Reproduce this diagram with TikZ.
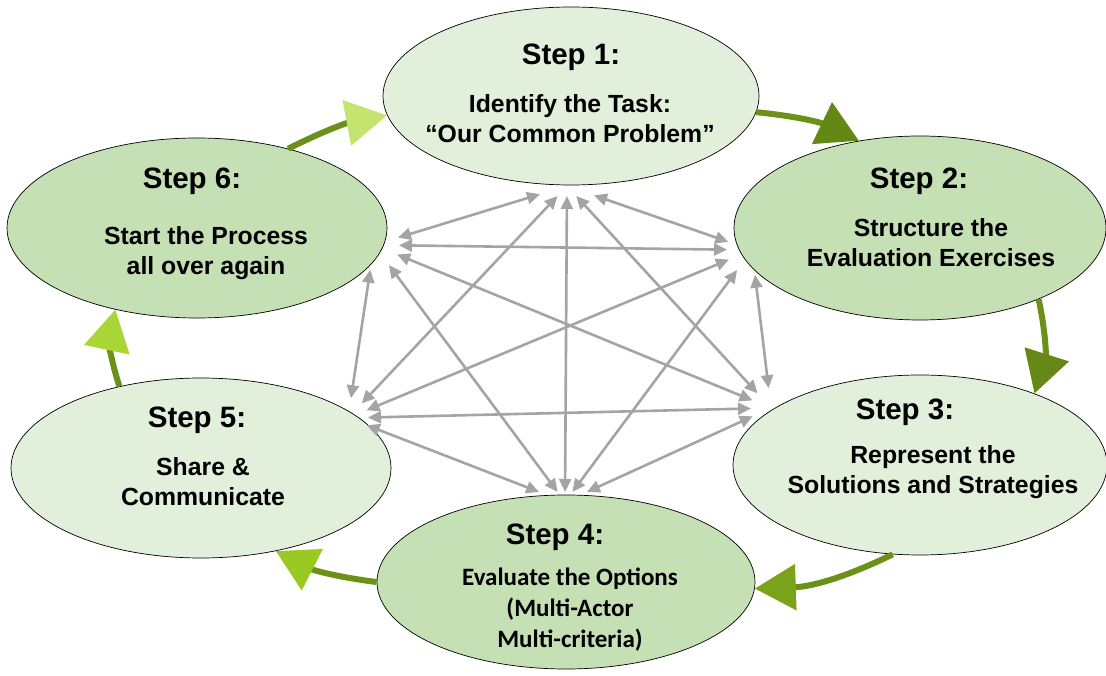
\documentclass[tikz,border=0pt]{standalone}
\usepackage{fontspec}
\setmainfont{Liberation Sans}
\newfontfamily\calfont{Carlito}
\usepackage{tikz}
\usetikzlibrary{shapes.geometric,arrows.meta}
\definecolor{lightstep}{RGB}{226,239,218}
\definecolor{darkstep}{RGB}{197,224,180}
\definecolor{shaft}{RGB}{108,145,25}
\definecolor{spokegray}{RGB}{164,164,164}
\definecolor{headA}{RGB}{195,228,110}
\definecolor{headB}{RGB}{99,137,20}
\definecolor{headC}{RGB}{102,136,22}
\definecolor{headD}{RGB}{122,163,26}
\definecolor{headE}{RGB}{154,201,34}
\definecolor{headF}{RGB}{168,214,55}

\begin{document}
\begin{tikzpicture}[x=1pt,y=1pt,
  stepshape/.style={ellipse,draw=black,line width=0.7pt,inner sep=0pt,
    minimum width=376pt,minimum height=180pt},
  title/.style={font=\fontsize{29.5}{34}\selectfont\bfseries},
  body/.style={font=\fontsize{24.8}{30}\selectfont\bfseries,align=center},
  bodycal/.style={font=\fontsize{25}{31}\selectfont\calfont\bfseries,align=center},
  hub/.style={circle,inner sep=0pt,outer sep=0pt,minimum size=#1},
  hubbar/.style={rectangle,inner sep=0pt,outer sep=0pt,minimum width=54pt,minimum height=20pt},
  spokes/.style={draw=spokegray,line width=2.6pt,
    {Triangle[length=13pt,width=12pt]}-{Triangle[length=13pt,width=12pt]}},
  cycarrow/.style={draw=shaft,line width=6pt,-{Triangle[length=41pt,width=45pt,color=#1]}}]
  \useasboundingbox (0,0) rectangle (1106,675);

  % the six steps
  \node[stepshape,fill=lightstep,minimum height=178pt] (s1) at (571,579) {};
  \node[stepshape,fill=darkstep,minimum width=372pt,minimum height=184pt] (s2) at (920,447) {};
  \node[stepshape,fill=lightstep,minimum width=374pt] (s3) at (920,210) {};
  \node[stepshape,fill=darkstep,minimum width=378pt,minimum height=174pt] (s4) at (566,93) {};
  \node[stepshape,fill=lightstep,minimum width=380pt] (s5) at (201,207) {};
  \node[stepshape,fill=darkstep,minimum width=380pt] (s6) at (197,447) {};

  \node[title] (t1) at (571,618) {Step 1:};
  \node[body] (b1) at (570,556) {Identify the Task:\\“Our Common Problem”};
  \node[title] (t2) at (919,494) {Step 2:};
  \node[body] (b2) at (931,432) {Structure the\\Evaluation Exercises};
  \node[title] (t3) at (905,263) {Step 3:};
  \node[body] (b3) at (933,203) {Represent the\\Solutions and Strategies};
  \node[title] (t4) at (555,138) {Step 4:};
  \node[bodycal] (b4) at (570,65) {Evaluate the Options\\(Multi-Actor\\Multi-criteria)};
  \node[title] (t5) at (197,255) {Step 5:};
  \node[body] (b5) at (203,193) {Share \&\\Communicate};
  \node[title] (t6) at (192,494) {Step 6:};
  \node[body] (b6) at (206,422) {Start the Process\\all over again};

  % hubs for the links in the middle
  \node[hubbar] (h1) at (567,489) {};
  \node[hub=50pt] (h2) at (752,425) {};
  \node[hub=40pt] (h3) at (771,267) {};
  \node[hubbar] (h4) at (565,173) {};
  \node[hub=40pt] (h5) at (348,257) {};
  \node[hub=50pt] (h6) at (374,430) {};

  \draw[spokes] (h1) -- (h2);
  \draw[spokes] (h1) -- (h3);
  \draw[spokes] (h1) -- (h4);
  \draw[spokes] (h1) -- (h5);
  \draw[spokes] (h1) -- (h6);
  \draw[spokes] (h2) -- (h3);
  \draw[spokes] (h2) -- (h4);
  \draw[spokes] (h2) -- (h5);
  \draw[spokes] (h2) -- (h6);
  \draw[spokes] (h3) -- (h4);
  \draw[spokes] (h3) -- (h5);
  \draw[spokes] (h3) -- (h6);
  \draw[spokes] (h4) -- (h5);
  \draw[spokes] (h4) -- (h6);
  \draw[spokes] (h5) -- (h6);

  % the cycle
  \draw[cycarrow=headB] (s1.355) to[bend left=10] (s2.125);
  \draw[cycarrow=headC] (s2.329) to[bend left=15] (s3.32);
  \draw[cycarrow=headD] (s3.253) to[bend left=12] (s4.358);
  \draw[cycarrow=headE] (s4.180) to[bend left=10] (s5.312);
  \draw[cycarrow=headF] (s5.135) to[bend left=15] (s6.225);
  \draw[cycarrow=headA] (s6.41) to[bend left=8] (s1.186);
\end{tikzpicture}
\end{document}
